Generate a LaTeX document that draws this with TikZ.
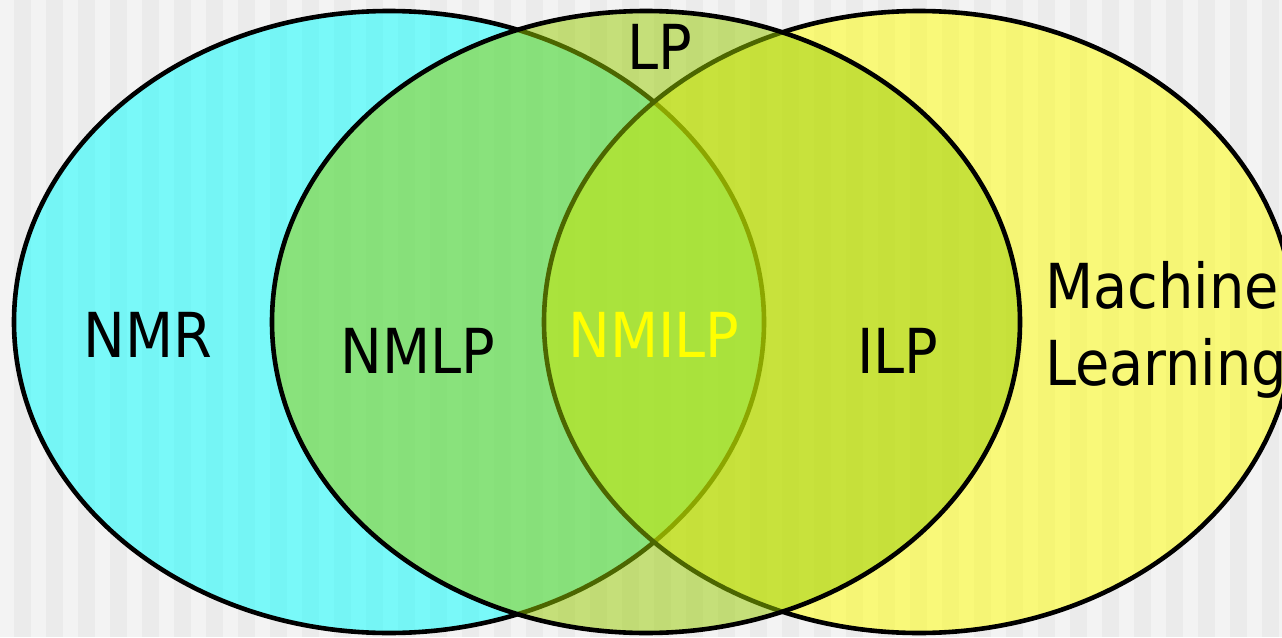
\documentclass[tikz,border=0pt]{standalone}
\usepackage{fontspec}
\setmainfont{DejaVu Sans Condensed}
\definecolor{bgl}{RGB}{243,243,243}
\definecolor{bgd}{RGB}{235,235,235}
\definecolor{cy}{RGB}{0,255,255}
\definecolor{ye}{RGB}{255,255,0}
\definecolor{lpc}{RGB}{153,204,0}
\begin{document}
\begin{tikzpicture}[x=1pt,y=-1pt,
  txt/.style={inner sep=0pt, anchor=base, font=\fontsize{62}{74}\selectfont},
  venn/.style={line width=4.6pt, draw=black, fill opacity=0.5}]
\useasboundingbox (0,0) rectangle (1282,637);
\clip (0,0) rectangle (1282,637);
% striped background
\fill[bgl] (0,0) rectangle (1282,637);
\foreach \k in {0,...,40} \fill[bgd] ({14+32*\k},0) rectangle ({31+32*\k},637);
% sets
\filldraw[venn, fill=cy] (389,322) ellipse [x radius=375, y radius=311];
\filldraw[venn, fill=ye] (919,322) ellipse [x radius=375, y radius=311];
\filldraw[venn, fill=lpc] (646,322) ellipse [x radius=374, y radius=311];
% labels
\node[txt] (nmr) at (148,357) {NMR};
\node[txt] (nmlp) at (418,373) {NMLP};
\node[txt] (lp) at (660,69) {LP};
\node[txt, text=ye] (nmilp) at (654,357) {NMILP};
\node[txt] (ilp) at (898,373) {ILP};
\node[txt, anchor=base west] (ml1) at (1045,308) {Machine};
\node[txt, anchor=base west] (ml2) at (1045,385) {Learning};
\end{tikzpicture}
\end{document}
